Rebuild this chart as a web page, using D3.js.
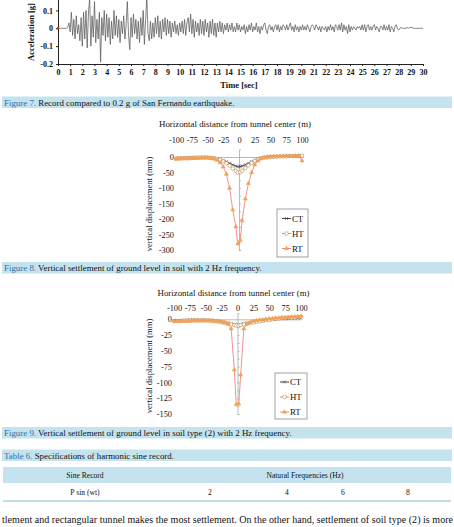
<!DOCTYPE html>
<html>
<head>
<meta charset="utf-8">
<script src="https://cdn.jsdelivr.net/npm/d3@7"></script>
<style>
body { margin: 0; background: #fff; }
svg { display: block; }
text { font-family: "Liberation Serif", "Times New Roman", serif; fill: #111; }
</style>
</head>
<body>
<script>
const W = 454
const H = 527
const svg = d3.select("body").append("svg")
    .attr("width", W)
    .attr("height", H)

// ---- data ----
const accelStep = 0.1   // sec between samples
const accel = [
    0, 0, 0, 0, 0, 0, 0, 0, 0.005,
    0.03, -0.02, 0.09, -0.04, 0.05, -0.06, 0.07, -0.03, 0.02, -0.07, 0.06,
    -0.1, 0.09, -0.06, 0.1, -0.11, 0.08, 0.17, -0.1, 0.07, -0.05,
    0.15, -0.08, 0.05, -0.06, 0.09, -0.19, 0.06, -0.04, 0.1, -0.07,
    0.08, -0.05, 0.06, -0.09, 0.04, -0.06, 0.1, -0.04, 0.07, -0.05,
    0.05, -0.08, 0.04, -0.03, 0.07, -0.06, 0.02, 0.15, -0.04, -0.12,
    0.06, -0.05, 0.08, -0.03, 0.05, -0.06, 0.04, -0.08, 0.06, -0.04,
    0.1, -0.09, 0.05, 0.17, -0.03, -0.07, 0.04, -0.06, 0.03, -0.05,
    0.06, -0.03, 0.07, -0.05, 0.04, -0.06, 0.05, -0.02, 0.06, -0.04,
    0.05, -0.03, 0.04, -0.05, 0.03, -0.02, 0.04, -0.03, 0.02, -0.04,
    0.03, -0.02, 0.04, -0.03, 0.05, -0.04, 0.03, 0.06, -0.02, 0.08,
    -0.03, 0.05, -0.05, 0.04, -0.02, 0.03, -0.04, 0.05, -0.03, 0.04,
    -0.04, 0.05, -0.02, 0.03, -0.05, 0.04, -0.03, 0.05, -0.04, 0.03,
    -0.05, 0.03, -0.02, 0.04, -0.02, 0.03, -0.03, 0.02, -0.01, 0.03,
    -0.02, 0.02, -0.01, 0.03, -0.02, 0.01, -0.02, 0.03, -0.01, 0.02,
    -0.02, 0.01, -0.01, 0.02, -0.03, 0.01, -0.02, 0.02, -0.01, 0.03,
    -0.02, 0.01, -0.01, 0.03, -0.02, 0.01, -0.03, 0.01, -0.01, 0.02,
    0.03, -0.01, -0.03, 0.01, 0.02, -0.01, 0.01, -0.02, 0.01, 0.02,
    -0.01, 0.02, -0.02, 0.01, -0.01, 0.02, 0.01, -0.01, 0.02, -0.01,
    0.01, 0.03, -0.01, 0.01, -0.02, 0.02, -0.01, 0.01, -0.02, 0.01,
    -0.01, 0.02, -0.01, 0.01, -0.01, 0.02, 0, -0.02, 0.01, 0.02,
    0.01, -0.01, 0.02, 0.01, -0.01, 0.01, -0.02, 0.01, 0, -0.01,
    0.01, -0.02, 0.01, -0.01, 0.02, -0.01, 0.01, -0.02, 0.02, 0.01,
    -0.01, 0.02, -0.01, 0.03, -0.02, 0.02, -0.01, 0.01, -0.03, 0.02,
    -0.02, 0.01, -0.01, 0.01, 0, -0.01, 0.01, 0, 0.01, -0.01,
    0.02, -0.01, 0.02, -0.02, 0.01, 0.02, -0.01, 0.01, -0.01, 0.01,
    0.02, -0.01, 0.01, 0, -0.02, 0.01, 0.01, -0.01, 0.02, -0.01,
    0.01, -0.01, 0.02, -0.02, 0.01, 0, -0.02, 0.01, 0.02, 0,
    -0.01, 0, 0.005, 0, 0, 0, 0, 0.005, 0, 0.005,
    0.005, 0.005, 0, 0, 0, 0, 0, 0, 0, 0, 0
]
const timeTicks = [0, 1, 2, 3, 4, 5, 6, 7, 8, 9, 10, 11, 12, 13, 14, 15, 16, 17, 18, 19, 20, 21, 22, 23, 24, 25, 26, 27, 28, 29, 30]
const accelTicks = [0.1, 0, -0.1, -0.2]

const dist = [-100, -95, -90, -85, -80, -75, -70, -65, -60, -55, -50, -45, -40, -35, -30, -25, -20, -15, -10, -5, -2,
    2, 5, 10, 15, 20, 25, 30, 35, 40, 45, 50, 55, 60, 65, 70, 75, 80, 85, 90, 95, 100]
const fig8CT = [-4, -3, -3, -2, -2, -2, -1, -1, -1, -1, -1, -2, -3, -5, -8, -11, -15, -20, -25, -29, -31,
    -31, -29, -25, -20, -15, -10, -6, -3, -1, 0, 1, 1, 2, 2, 2, 2, 3, 3, 3, 3, 3]
const fig8HT = [-6, -5, -5, -4, -4, -3, -3, -2, -2, -2, -2, -3, -4, -6, -9, -14, -20, -28, -37, -45, -50,
    -49, -44, -36, -27, -19, -12, -7, -4, -2, -1, 0, 1, 1, 2, 2, 2, 3, 3, 3, 3, 4]
const fig8RT = [-6, -6, -5, -5, -5, -4, -4, -4, -3, -3, -3, -4, -6, -10, -18, -32, -55, -100, -170, -225, -280,
    -268, -205, -135, -85, -50, -25, -12, -5, -2, 0, 1, 2, 2, 2, 3, 3, 3, 3, 4, 4, -12]
const fig9CT = [-2, -2, -2, -2, -1, -1, -1, -1, -1, -1, -1, -2, -2, -3, -3, -4, -5, -6, -7, -8, -9,
    -9, -8, -7, -6, -5, -4, -3, -2, -2, -1, -1, 0, 0, 1, 1, 1, 1, 2, 2, 2, 2]
const fig9HT = [-3, -3, -3, -2, -2, -2, -2, -2, -2, -2, -2, -2, -3, -3, -4, -5, -6, -7, -8, -9, -10,
    -10, -9, -8, -7, -6, -5, -4, -3, -2, -1, -1, 0, 1, 1, 2, 2, 3, 3, 3, 4, 4]
const fig9RT = [-3, -3, -3, -3, -3, -3, -2, -2, -2, -2, -2, -2, -2, -3, -3, -4, -5, -7, -15, -80, -135,
    -134, -88, -15, -7, -5, -3, -2, -1, -1, 0, 1, 1, 2, 2, 3, 3, 3, 4, 4, 4, 5]
const distTicks = [-100, -75, -50, -25, 0, 25, 50, 75, 100]
const fig8Ticks = [0, -50, -100, -150, -200, -250, -300]
const fig9Ticks = [0, -25, -50, -75, -100, -125, -150]
const seriesNames = ["CT", "HT", "RT"]

const tableHead = ["Sine Record", "Natural Frequencies (Hz)"]
const tableRow = ["P sin (wt)", "2", "4", "6", "8"]

// ---- styles ----
const captionFill = "#c4e3ee"
const captionBlue = "#2b73ad"
const seriesStyle = {
    CT: {line: "#444", mark: "#444", shape: d3.symbolTimes, size: 7, fill: "none"},
    HT: {line: "#c99a66", mark: "#c08a52", shape: d3.symbolCircle, size: 10, fill: "#fff"},
    RT: {line: "#f4877c", mark: "#f3a052", shape: d3.symbolTriangle, size: 7, fill: "#f3a052"}
}

// ---- top accelerogram ----
const xT = d3.scaleLinear().domain([0, 30]).range([58, 423])
const yA = d3.scaleLinear().domain([-0.2, 0.2]).range([64, -7.4])

const gTop = svg.append("g")
gTop.append("path")
    .datum(accel)
    .attr("d", d3.line().x((d, i) => xT(i * accelStep)).y(d => yA(d)))
    .attr("fill", "none")
    .attr("stroke", "#5a5a5a")
    .attr("stroke-width", 0.75)
    .attr("stroke-linejoin", "round")

const axB = gTop.append("g")
    .attr("transform", `translate(0,${yA(-0.2)})`)
    .call(d3.axisBottom(xT).tickValues(timeTicks).tickSize(2).tickPadding(3).tickFormat(d => d))
const axL = gTop.append("g")
    .attr("transform", `translate(${xT(0)},0)`)
    .call(d3.axisLeft(yA).tickValues(accelTicks).tickSize(2).tickPadding(3).tickFormat(d => String(d)))
for (const ax of [axB, axL]) {
    ax.selectAll("path,line").attr("stroke", "#222").attr("stroke-width", 1)
    ax.selectAll("text").attr("font-size", 8).attr("font-weight", "bold")
        .attr("font-family", "Liberation Serif").attr("fill", "#222")
}
gTop.append("circle").attr("cx", xT(0)).attr("cy", yA(0)).attr("r", 1.3).attr("fill", "#d22")

gTop.append("text")
    .attr("transform", `translate(34,32) rotate(-90)`)
    .attr("text-anchor", "middle")
    .attr("font-size", 8.5)
    .attr("font-weight", "bold")
    .text("Acceleration [g]")
gTop.append("text")
    .attr("x", 239).attr("y", 88)
    .attr("text-anchor", "middle")
    .attr("font-size", 8.5)
    .attr("font-weight", "bold")
    .text("Time [sec]")

// ---- captions ----
function caption(y, label, rest) {
    svg.append("rect").attr("x", 2).attr("y", y - 6).attr("width", 450).attr("height", 11.5).attr("fill", captionFill)
    const t = svg.append("text").attr("x", 4).attr("y", y + 3).attr("font-size", 8.9)
    t.append("tspan").attr("fill", captionBlue).text(label)
    t.append("tspan").text(rest)
}
caption(102.5, "Figure 7.", " Record compared to 0.2 g of San Fernando earthquake.")
caption(268, "Figure 8.", " Vertical settlement of ground level in soil with 2 Hz frequency.")
caption(433, "Figure 9.", " Vertical settlement of ground level in soil type (2) with 2 Hz frequency.")
caption(455.5, "Table 6.", " Specifications of harmonic sine record.")

// ---- settlement charts ----
function settlement(cfg) {
    const x = d3.scaleLinear().domain([-100, 100]).range(cfg.xRange)
    const y = d3.scaleLinear().domain(cfg.yDomain).range(cfg.yRange)
    const g = svg.append("g")

    g.append("text")
        .attr("x", x(0) - 4).attr("y", cfg.titleY + 3)
        .attr("text-anchor", "middle")
        .attr("font-size", 8.9)
        .text("Horizontal distance from tunnel center (m)")

    const top = g.append("g")
        .attr("transform", `translate(0,${cfg.tickY + 4})`)
        .call(d3.axisTop(x).tickValues(distTicks).tickSize(0).tickPadding(0).tickFormat(d => String(d)))
    top.select(".domain").remove()
    top.selectAll("text").attr("font-size", 8.3).attr("font-family", "Liberation Serif").attr("fill", "#111")

    const left = g.append("g")
        .attr("transform", `translate(${x(-100) - 2},0)`)
        .call(d3.axisLeft(y).tickValues(cfg.yTicks).tickSize(0).tickPadding(0).tickFormat(d => String(d)))
    left.select(".domain").remove()
    left.selectAll("text").attr("font-size", 8.3).attr("font-family", "Liberation Serif").attr("fill", "#111")

    // center and zero lines
    const vAxis = g.append("g")
        .attr("transform", `translate(${x(0)},0)`)
        .call(d3.axisRight(y).tickValues(cfg.minorTicks).tickSize(2).tickFormat(""))
    vAxis.selectAll("path,line").attr("stroke", "#aaa").attr("stroke-width", 0.8)
    const hAxis = g.append("g")
        .attr("transform", `translate(0,${y(0)})`)
        .call(d3.axisTop(x).tickValues(distTicks).tickSize(0).tickFormat(""))
    hAxis.select(".domain").attr("stroke", "#aaa").attr("stroke-width", 0.8)

    g.append("text")
        .attr("transform", `translate(${cfg.yLabelX},${cfg.yLabelY}) rotate(-90)`)
        .attr("text-anchor", "middle")
        .attr("font-size", 8.6)
        .text("vertical displacement (mm)")

    seriesNames.forEach((name, k) => {
        const st = seriesStyle[name]
        const vals = cfg.series[k]
        g.append("path")
            .datum(vals)
            .attr("d", d3.line().x((d, i) => x(dist[i])).y(d => y(d)))
            .attr("fill", "none")
            .attr("stroke", st.line)
            .attr("stroke-width", 0.9)
        g.append("g").selectAll("path")
            .data(vals)
            .join("path")
            .attr("transform", (d, i) => `translate(${x(dist[i])},${y(d)})`)
            .attr("d", d3.symbol(st.shape, st.size))
            .attr("fill", st.fill)
            .attr("stroke", st.mark)
            .attr("stroke-width", 0.6)
    })

    // legend
    const L = cfg.legend
    g.append("rect")
        .attr("x", L.x).attr("y", L.y).attr("width", L.w).attr("height", L.h)
        .attr("fill", "#fff").attr("stroke", "#8a8a8a").attr("stroke-width", 0.8)
    seriesNames.forEach((name, k) => {
        const st = seriesStyle[name]
        const ly = L.y + L.first + k * L.step
        g.append("line")
            .attr("x1", L.x + 5).attr("x2", L.x + 14).attr("y1", ly).attr("y2", ly)
            .attr("stroke", st.line).attr("stroke-width", 1)
        g.append("path")
            .attr("transform", `translate(${L.x + 9.5},${ly})`)
            .attr("d", d3.symbol(st.shape, st.size))
            .attr("fill", st.fill).attr("stroke", st.mark).attr("stroke-width", 0.6)
        g.append("text")
            .attr("x", L.x + 15).attr("y", ly + 3)
            .attr("font-size", 8.8)
            .text(name)
    })
}

settlement({
    xRange: [176, 302],
    yDomain: [-300, 25], yRange: [250, 149.25],
    yTicks: fig8Ticks,
    minorTicks: [-25, -50, -75, -100, -125, -150, -175, -200, -225, -250, -275, -300],
    titleY: 124, tickY: 139,
    yLabelX: 152, yLabelY: 204,
    series: [fig8CT, fig8HT, fig8RT],
    legend: {x: 277, y: 209, w: 31, h: 48, first: 9.5, step: 15}
})
settlement({
    xRange: [174, 301],
    yDomain: [-150, 10], yRange: [414, 313],
    yTicks: fig9Ticks,
    minorTicks: [-12.5, -25, -37.5, -50, -62.5, -75, -87.5, -100, -112.5, -125, -137.5, -150],
    titleY: 293, tickY: 307,
    yLabelX: 152, yLabelY: 366,
    series: [fig9CT, fig9HT, fig9RT],
    legend: {x: 275, y: 373, w: 32, h: 46, first: 9, step: 15}
})

// ---- table ----
svg.append("rect").attr("x", 3).attr("y", 467).attr("width", 448).attr("height", 16).attr("fill", captionFill)
svg.append("line").attr("x1", 3).attr("x2", 451).attr("y1", 501).attr("y2", 501)
    .attr("stroke", "#a8d2e2").attr("stroke-width", 1.5)
const headX = [85, 305]
const rowX = [85, 210, 287, 343, 408]
svg.append("g").selectAll("text").data(tableHead).join("text")
    .attr("x", (d, i) => headX[i]).attr("y", 478)
    .attr("text-anchor", "middle").attr("font-size", 7.6).attr("fill", "#333")
    .text(d => d)
svg.append("g").selectAll("text").data(tableRow).join("text")
    .attr("x", (d, i) => rowX[i]).attr("y", 495)
    .attr("text-anchor", "middle").attr("font-size", 7.6).attr("fill", "#333")
    .text(d => d)

// ---- body text ----
svg.append("text")
    .attr("x", 2).attr("y", 523)
    .attr("font-size", 10)
    .attr("textLength", 451)
    .attr("lengthAdjust", "spacing")
    .text("tlement and rectangular tunnel makes the most settlement. On the other hand, settlement of soil type (2) is more")
</script>
</body>
</html>
